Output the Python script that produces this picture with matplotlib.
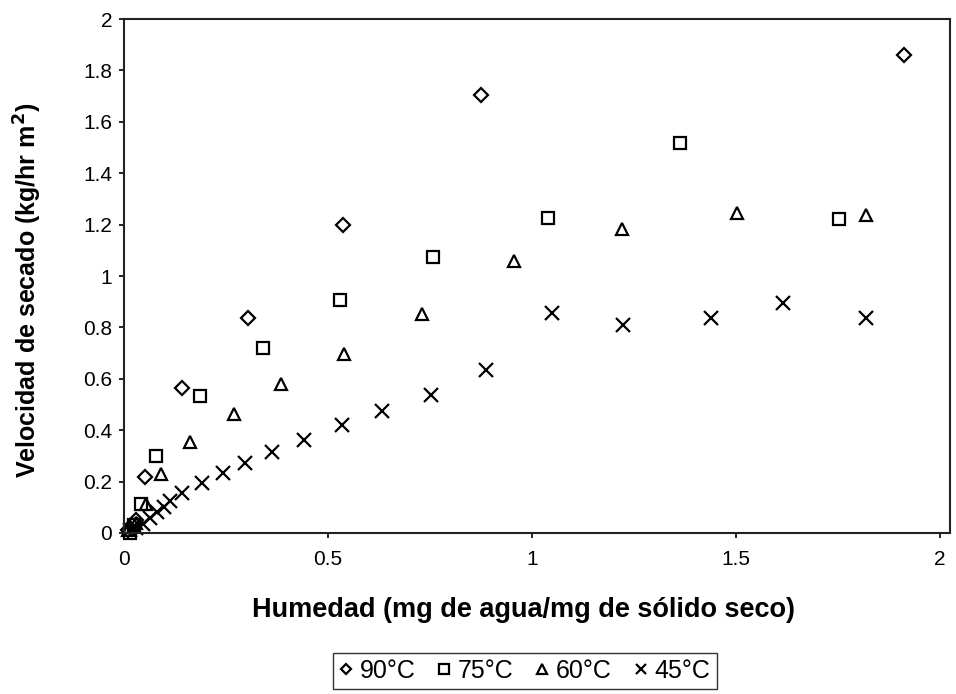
import matplotlib.pyplot as plt
import numpy as np

plt.rcParams['font.family'] = ['Liberation Sans', 'DejaVu Sans']

# humedad (mg agua/mg solido seco) y velocidad de secado (kg/hr m2)
x90 = [0.010, 0.020, 0.030, 0.051, 0.143, 0.303, 0.536, 0.875, 1.912]
y90 = [0.010, 0.030, 0.050, 0.216, 0.565, 0.835, 1.199, 1.703, 1.861]

x75 = [0.015, 0.025, 0.041, 0.078, 0.186, 0.341, 0.529, 0.758, 1.040, 1.363, 1.754]
y75 = [0.000, 0.030, 0.112, 0.301, 0.533, 0.720, 0.906, 1.075, 1.224, 1.517, 1.223]

x60 = [0.010, 0.030, 0.054, 0.090, 0.162, 0.270, 0.385, 0.540, 0.730, 0.957, 1.221, 1.504, 1.819]
y60 = [0.010, 0.040, 0.112, 0.229, 0.355, 0.464, 0.578, 0.698, 0.854, 1.059, 1.182, 1.245, 1.236]

x45 = [0.015, 0.030, 0.047, 0.064, 0.080, 0.097, 0.113, 0.141, 0.192, 0.242, 0.297, 0.364,
       0.442, 0.535, 0.632, 0.752, 0.887, 1.049, 1.224, 1.440, 1.616, 1.820]
y45 = [0.010, 0.020, 0.035, 0.060, 0.080, 0.100, 0.125, 0.154, 0.193, 0.232, 0.271, 0.316,
       0.362, 0.421, 0.473, 0.538, 0.633, 0.857, 0.811, 0.835, 0.896, 0.835]

series = [
    (x90, y90, 'D', 7, '90°C'),
    (x75, y75, 's', 9, '75°C'),
    (x60, y60, '^', 9, '60°C'),
    (x45, y45, 'x', 10, '45°C'),
]

fig = plt.figure(figsize=(9.56, 6.94), dpi=100)
ax = fig.add_axes([0.1297, 0.232, 0.864, 0.7406])

for xs, ys, m, ms, lab in series:
    ax.plot(xs, ys, linestyle='none', marker=m, markersize=ms,
            markerfacecolor='none', markeredgecolor='black', markeredgewidth=1.6,
            color='black', label=lab, clip_on=False)

ax.set_xlim(0, 2.025)
ax.set_ylim(0, 2)
ax.set_xticks([0, 0.5, 1, 1.5, 2])
ax.set_xticklabels(['0', '0.5', '1', '1.5', '2'])
ax.set_yticks(np.arange(0, 2.01, 0.2))
ax.set_yticklabels(['0', '0.2', '0.4', '0.6', '0.8', '1', '1.2', '1.4', '1.6', '1.8', '2'])
ax.tick_params(direction='out', length=3.5, width=1.2, labelsize=15, colors='black')
ax.tick_params(axis='x', pad=9)
ax.tick_params(axis='y', pad=5)

for s in ax.spines.values():
    s.set_linewidth(1.5)
    s.set_color('#222222')

fig.text(0.548, 0.121, 'Humedad (mg de agua/mg de sólido seco)', fontsize=19.5,
         fontweight='bold', ha='center', va='center')
fig.text(0.029, 0.582, 'Velocidad de secado (kg/hr m$^{\\mathbf{2}}$)', fontsize=18,
         fontweight='bold', ha='center', va='center', rotation=90)

leg = fig.legend(loc='center', bbox_to_anchor=(0.549, 0.033), ncol=4,
                 fontsize=18, frameon=True, fancybox=False, handlelength=0.5,
                 handletextpad=0.3, columnspacing=0.9, borderpad=0.25, markerscale=0.75)
leg.get_frame().set_edgecolor('black')
leg.get_frame().set_linewidth(1.0)

fig.savefig('out.png', dpi=100)
